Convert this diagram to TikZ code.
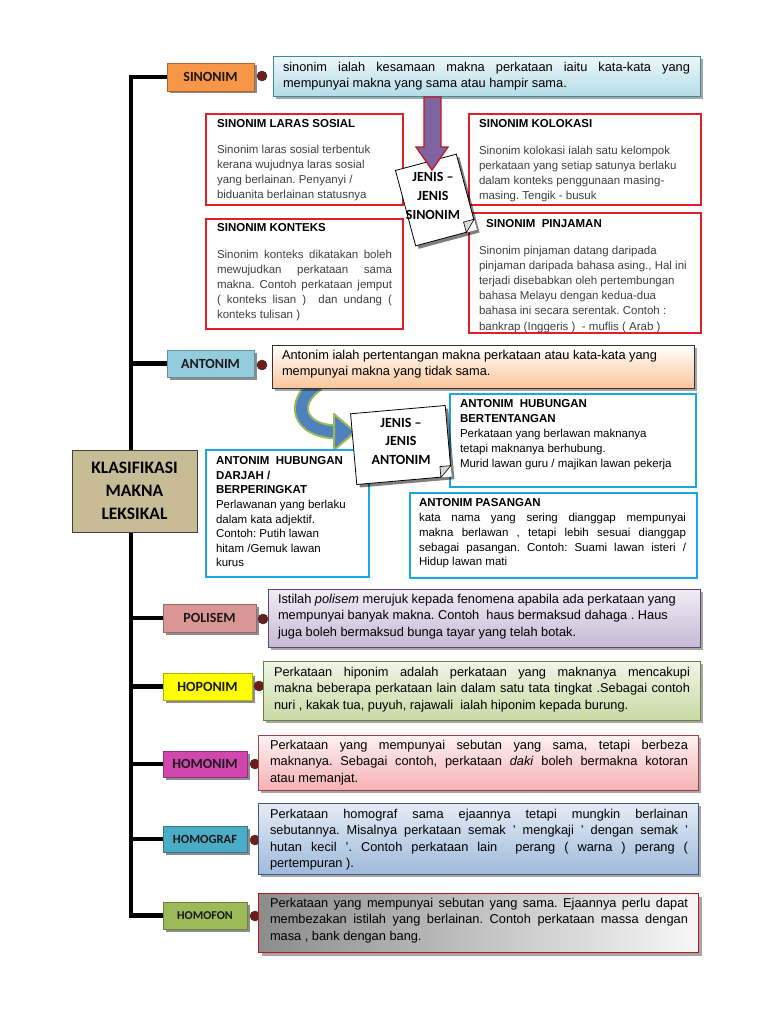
\documentclass[tikz,border=0pt]{standalone}
\usepackage{fontspec}
\setmainfont{Liberation Sans}
\newfontfamily\calfont{Carlito}
\usetikzlibrary{shadows,calc}
\frenchspacing

\definecolor{orangeL}{HTML}{F79646}
\definecolor{antL}{HTML}{93CDDD}
\definecolor{poliL}{HTML}{D99694}
\definecolor{hopoL}{HTML}{FFFF00}
\definecolor{homonL}{HTML}{D147AE}
\definecolor{homogL}{HTML}{4BACC6}
\definecolor{homofL}{HTML}{9BBB59}
\definecolor{tanK}{HTML}{C8BC96}
\definecolor{dotc}{HTML}{6E1C1C}
\definecolor{redb}{HTML}{E41E26}
\definecolor{cyanb}{HTML}{1CA7E0}
\definecolor{purp}{HTML}{8064A2}
\definecolor{greenb}{HTML}{9BBB59}
\definecolor{blueA}{HTML}{4F81BD}
\definecolor{subgray}{HTML}{404040}

\newcommand\J[1]{\hbox to\hsize{\strut#1}}
\newcommand\Lx[1]{\hbox to\hsize{\strut#1\hfil}}
\newcommand\tbox[2]{\vbox{\hsize=#1pt\relax#2}}
\newcommand\descfont{\fontsize{12.8}{16.3}\selectfont}
\newcommand\subfont{\fontsize{11.5}{15.2}\selectfont}

\tikzset{
  spine/.style={line width=4.5pt, black},
  lbl/.style={fill=#1, draw=#1!70!black, line width=0.6pt, inner sep=0,
    font=\calfont\bfseries\fontsize{14}{16}\selectfont, text=black!90,
    drop shadow={shadow xshift=2.5pt, shadow yshift=-2.5pt, opacity=.45, fill=black}},
  dot/.style={circle, fill=dotc, draw=black!80, line width=0.5pt, minimum size=10pt, inner sep=0},
  desc/.style={inner sep=0, anchor=north west, line width=0.9pt,
    drop shadow={shadow xshift=3pt, shadow yshift=-3pt, opacity=.35, fill=black}},
  redbox/.style={draw=redb, line width=1.6pt, fill=white, inner sep=0, anchor=north west},
  cyanbox/.style={draw=cyanb, line width=1.6pt, fill=white, inner sep=0, anchor=north west},
  note/.style={draw=black, line width=0.8pt, fill=white, inner sep=0,
    drop shadow={shadow xshift=3pt, shadow yshift=-3pt, opacity=.5, fill=black}},
  txt/.style={inner sep=0, outer sep=0, anchor=north west},
  notetxt/.style={align=center, inner sep=0, font=\calfont\bfseries\fontsize{14}{19}\selectfont}
}

\begin{document}
\begin{tikzpicture}[x=1pt,y=-1pt]
\useasboundingbox[fill=white] (0,0) rectangle (768,1024);

% ---------- labels ----------
\node[lbl=orangeL, minimum width=87, minimum height=28] (sinlab) at (210.5,77) {SINONIM};
\node[lbl=antL, minimum width=87, minimum height=27] (antlab) at (210.5,363.5) {ANTONIM};
\node[lbl=poliL, minimum width=93, minimum height=28] (polilab) at (209.5,618) {POLISEM};
\node[lbl=hopoL, minimum width=89, minimum height=27] (hopolab) at (207.5,686.5) {HOPONIM};
\node[lbl=homonL, minimum width=84, minimum height=26] (homonlab) at (205,764) {HOMONIM};
\node[lbl=homogL, minimum width=84, minimum height=26, font=\calfont\bfseries\fontsize{12.5}{14}\selectfont] (homoglab) at (205,839) {HOMOGRAF};
\node[lbl=homofL, minimum width=84, minimum height=27, font=\calfont\bfseries\fontsize{12}{14}\selectfont] (homoflab) at (205,915.5) {HOMOFON};

% ---------- spine ----------
\coordinate (sp) at (131,0);
\draw[spine] (sinlab.west) -| (sp |- homoflab.west) -- (homoflab.west);
\draw[spine] (sp |- antlab.west) -- (antlab.west);
\draw[spine] (sp |- polilab.west) -- (polilab.west);
\draw[spine] (sp |- hopolab.west) -- (hopolab.west);
\draw[spine] (sp |- homonlab.west) -- (homonlab.west);
\draw[spine] (sp |- homoglab.west) -- (homoglab.west);

\node[fill=tanK, draw=black!75, line width=1pt, minimum width=125, minimum height=82, align=center,
  font=\calfont\bfseries\fontsize{17.5}{23}\selectfont] (root) at (134.5,491) {KLASIFIKASI\\MAKNA\\LEKSIKAL};

% ---------- dots ----------
\node[dot] (sindot) at (262,76) {};
\node[dot] (antdot) at (262,365) {};
\node[dot] (polidot) at (263,619) {};
\node[dot] (hopodot) at (259,686) {};
\node[dot] (homondot) at (255,764) {};
\node[dot] (homogdot) at (255,840) {};
\node[dot] (homofdot) at (255,916) {};

% ---------- sinonim sub boxes ----------
\node[redbox, minimum width=197, minimum height=91] (laras) at (205,113) {};
\node[redbox, minimum width=232, minimum height=91] (kolok) at (468,113) {};
\node[redbox, minimum width=197, minimum height=110] (konteks) at (205,218) {};
\node[redbox, minimum width=232, minimum height=120] (pinjam) at (468,212) {};

% ---------- description boxes ----------
\node[desc, draw=homogL!80!black, top color=white!60!antL!40, bottom color=antL!70, minimum width=427, minimum height=40] (sindesc) at (273,56) {};

% sinonim note + arrow
\node[note, rotate=15, minimum width=63, minimum height=78] (sn) at (436,200) {};
\coordinate (snA) at ($(sn.south east)!11pt!(sn.south west)$);
\coordinate (snB) at ($(sn.south east)!11pt!(sn.north east)$);
\fill[white] (snA) -- (sn.south east) -- (snB) -- cycle;
\draw[fill=black!15, line width=0.6pt] (snA) -- (snB) -- ($(snA)+(snB)-(sn.south east)$) -- cycle;
\node[notetxt] (snt) at (433,196) {JENIS –\\JENIS\\SINONIM};
\draw[fill=purp, draw=redb!85!black, line width=1.3pt, line join=miter] (424,97) -- (424,147) -- (416,147) -- (432,170) -- (448,147) -- (441,147) -- (441,97) -- cycle;

% antonim curved arrow
\draw[line width=15pt, draw=greenb] (318,384) .. controls (290,402) and (298,432) .. (338,432);
\draw[line width=11pt, draw=blueA] (318,384) .. controls (290,402) and (298,432) .. (338,432);
\draw[fill=blueA, draw=greenb, line width=2pt, line join=round] (334,414) -- (355,432) -- (334,450) -- cycle;

\node[desc, draw=black!80, top color=white, bottom color=orangeL!55, minimum width=422, minimum height=43] (antdesc) at (272,345) {};

% antonim sub boxes
\node[cyanbox, minimum width=246, minimum height=93] (bert) at (449,393) {};
\node[cyanbox, minimum width=163, minimum height=127] (darjah) at (205,449) {};
\node[cyanbox, minimum width=287, minimum height=85] (pasang) at (409,492) {};

\node[note, rotate=5, minimum width=95, minimum height=71] (an) at (401,445) {};
\coordinate (anA) at ($(an.south east)!11pt!(an.south west)$);
\coordinate (anB) at ($(an.south east)!11pt!(an.north east)$);
\fill[white] (anA) -- (an.south east) -- (anB) -- cycle;
\draw[fill=black!15, line width=0.6pt] (anA) -- (anB) -- ($(anA)+(anB)-(an.south east)$) -- cycle;
\node[notetxt, font=\calfont\bfseries\fontsize{14}{18.5}\selectfont] (ant) at (401,441) {JENIS –\\JENIS\\ANTONIM};

\node[desc, draw=purp!70!black, top color=purp!12, bottom color=purp!45, minimum width=432, minimum height=58] (polidesc) at (268,589) {};
\node[desc, draw=greenb!70!black, top color=greenb!15, bottom color=greenb!55, minimum width=437, minimum height=59] (hopodesc) at (263,661) {};
\node[desc, draw=redb!60!black!80, top color=redb!6, bottom color=redb!35, minimum width=440, minimum height=55] (homondesc) at (258,735) {};
\node[desc, draw=blueA!70!black, top color=blueA!15, bottom color=blueA!55, minimum width=440, minimum height=71] (homogdesc) at (258,803) {};
\node[desc, draw=redb!80!black, line width=1.3pt, left color=black!45, right color=black!3, minimum width=440, minimum height=59] (homofdesc) at (258,893) {};

% ---------- texts ----------
\node[txt, font=\descfont] (sint) at (283,60) {\tbox{407}{%
\J{sinonim ialah kesamaan makna perkataan iaitu kata-kata yang}
\Lx{mempunyai makna yang sama atau hampir sama.}}};

\node[txt, font=\descfont] (antt) at (282,348) {\tbox{405}{%
\Lx{Antonim ialah pertentangan makna perkataan atau kata-kata yang}
\Lx{mempunyai makna yang tidak sama.}}};

\node[txt, font=\descfont] (polit) at (278,592) {\tbox{415}{%
\Lx{Istilah \textit{polisem} merujuk kepada fenomena apabila ada perkataan yang}
\Lx{mempunyai banyak makna. Contoh~~haus bermaksud dahaga . Haus}
\Lx{juga boleh bermaksud bunga tayar yang telah botak.}}};

\node[txt, font=\descfont] (hopot) at (274,665) {\tbox{416}{%
\J{Perkataan hiponim adalah perkataan yang maknanya mencakupi}
\J{makna beberapa perkataan lain dalam satu tata tingkat .Sebagai contoh}
\Lx{nuri , kakak tua, puyuh, rajawali~~ialah hiponim kepada burung.}}};

\node[txt, font=\descfont] (homont) at (270,738) {\tbox{418}{%
\J{Perkataan yang mempunyai sebutan yang sama, tetapi berbeza}
\J{maknanya. Sebagai contoh, perkataan \textit{daki} boleh bermakna kotoran}
\Lx{atau memanjat.}}};

\node[txt, font=\descfont] (homogt) at (270,807) {\tbox{418}{%
\J{Perkataan homograf sama ejaannya tetapi mungkin berlainan}
\J{sebutannya. Misalnya perkataan semak ' mengkaji ' dengan semak '}
\J{hutan kecil '. Contoh perkataan lain~~perang ( warna ) perang (}
\Lx{pertempuran ).}}};

\node[txt, font=\descfont] (homoft) at (270,896) {\tbox{418}{%
\J{Perkataan yang mempunyai sebutan yang sama. Ejaannya perlu dapat}
\J{membezakan istilah yang berlainan. Contoh perkataan massa dengan}
\Lx{masa , bank dengan bang.}}};

% sinonim sub texts
\node[inner sep=0, anchor=base west, font=\subfont\bfseries] (larash) at (217,128) {SINONIM LARAS SOSIAL};
\node[txt, font=\subfont, text=subgray] (larast) at (217,142.5) {\tbox{180}{%
\Lx{Sinonim laras sosial terbentuk}
\Lx{kerana wujudnya laras sosial}
\Lx{yang berlainan. Penyanyi /}
\Lx{biduanita berlainan statusnya}}};

\node[inner sep=0, anchor=base west, font=\subfont\bfseries] (kolokh) at (479,128) {SINONIM KOLOKASI};
\node[txt, font=\subfont, text=subgray] (kolokt) at (479,143.5) {\tbox{211}{%
\Lx{Sinonim kolokasi ialah satu kelompok}
\Lx{perkataan yang setiap satunya berlaku}
\Lx{dalam konteks penggunaan masing-}
\Lx{masing. Tengik - busuk}}};

\node[inner sep=0, anchor=base west, font=\subfont\bfseries] (kontekh) at (217,232) {SINONIM KONTEKS};
\node[txt, font=\subfont, text=subgray] (kontekt) at (217,247.5) {\tbox{175}{%
\J{Sinonim konteks dikatakan boleh}
\J{mewujudkan perkataan sama}
\J{makna. Contoh perkataan jemput}
\J{( konteks lisan )~~dan undang (}
\Lx{konteks tulisan )}}};

\node[inner sep=0, anchor=base west, font=\subfont\bfseries] (pinjamh) at (486,227) {SINONIM~~PINJAMAN};
\node[txt, font=\subfont, text=subgray] (pinjamt) at (479,243.5) {\tbox{211}{%
\Lx{Sinonim pinjaman datang daripada}
\Lx{pinjaman daripada bahasa asing., Hal ini}
\Lx{terjadi disebabkan oleh pertembungan}
\Lx{bahasa Melayu dengan kedua-dua}
\Lx{bahasa ini secara serentak. Contoh :}
\Lx{bankrap (Inggeris )~~- muflis ( Arab )}}};

% antonim sub texts
\node[txt, font=\subfont] (bertt) at (460,396.5) {\tbox{230}{%
\Lx{\bfseries ANTONIM~~HUBUNGAN}
\Lx{\bfseries BERTENTANGAN}
\Lx{Perkataan yang berlawan maknanya}
\Lx{tetapi maknanya berhubung.}
\Lx{Murid lawan guru / majikan lawan pekerja}}};

\node[txt, font=\fontsize{11.5}{14.6}\selectfont] (darjaht) at (216,454.5) {\tbox{145}{%
\Lx{\bfseries ANTONIM~~HUBUNGAN}
\Lx{\bfseries DARJAH /}
\Lx{\bfseries BERPERINGKAT}
\Lx{Perlawanan yang berlaku}
\Lx{dalam kata adjektif.}
\Lx{Contoh: Putih lawan}
\Lx{hitam /Gemuk lawan}
\Lx{kurus}}};

\node[txt, font=\fontsize{11.5}{14.75}\selectfont] (pasangt) at (419,496.5) {\tbox{267}{%
\Lx{\bfseries ANTONIM PASANGAN}
\J{kata nama yang sering dianggap mempunyai}
\J{makna berlawan , tetapi lebih sesuai dianggap}
\J{sebagai pasangan. Contoh: Suami lawan isteri /}
\Lx{Hidup lawan mati}}};

\end{tikzpicture}
\end{document}
